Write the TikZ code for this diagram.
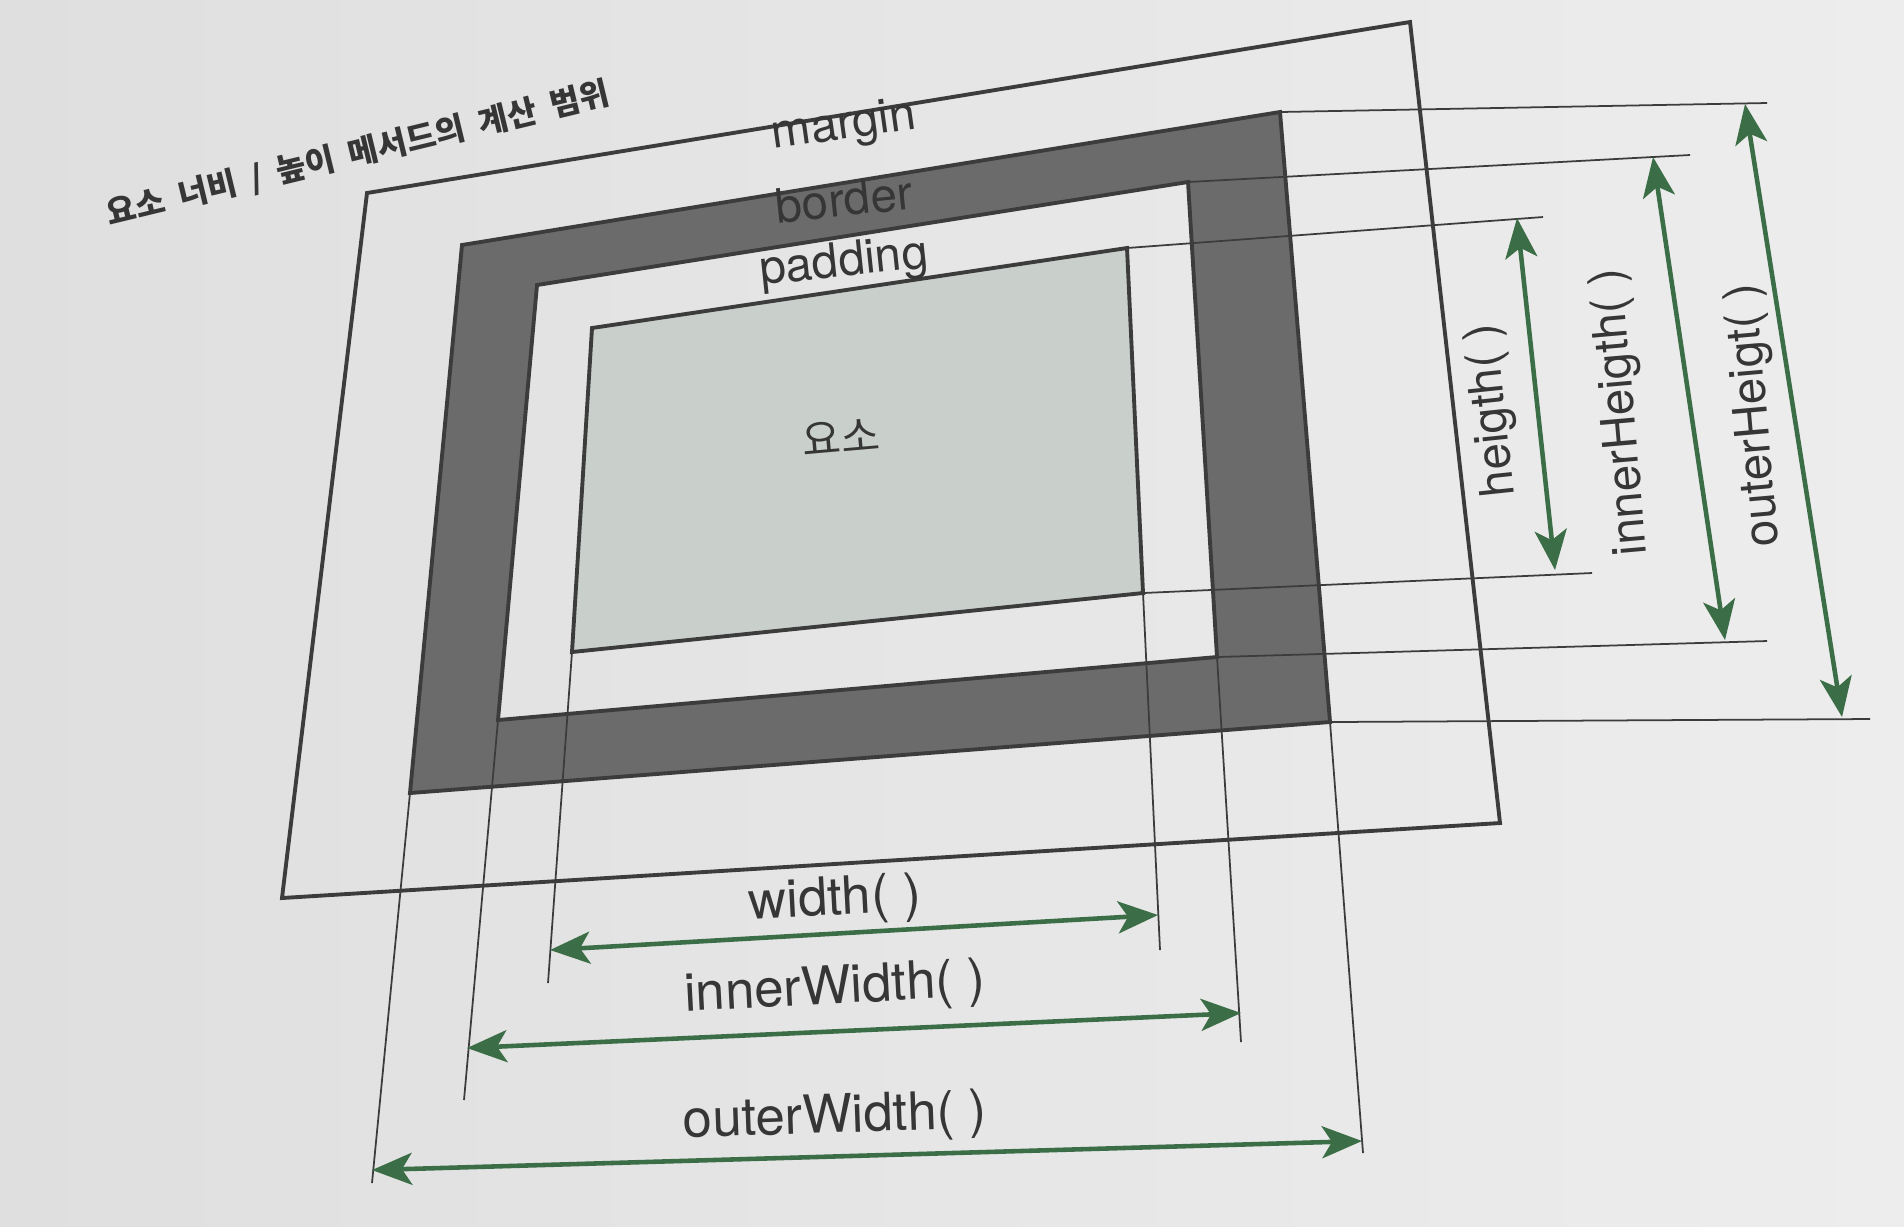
\documentclass[tikz,border=0pt]{standalone}
\usepackage{fontspec}
\setmainfont{TeX Gyre Heros}
\newfontfamily\kr{Noto Sans CJK KR}
\usetikzlibrary{arrows.meta}
\definecolor{paperL}{HTML}{DFDFDF}
\definecolor{paperR}{HTML}{EDEDED}
\definecolor{bordgray}{HTML}{6B6B6B}
\definecolor{elemgray}{HTML}{C9D0CC}
\definecolor{linegray}{HTML}{3C3C3C}
\definecolor{dimgreen}{HTML}{3B6E46}
\definecolor{txtgray}{HTML}{363636}

\begin{document}
\begin{tikzpicture}[x=0.01cm,y=-0.01cm,
 box/.style={draw=linegray,line width=1.1pt},
 ext/.style={draw=linegray,line width=.5pt},
 dim/.style={draw=dimgreen,line width=1.3pt,{Stealth[length=4mm,width=3.2mm,inset=1mm]}-{Stealth[length=4mm,width=3.2mm,inset=1mm]}},
 lbl/.style={text=txtgray,inner sep=0pt,font=\fontsize{13.5}{16}\selectfont},
 wlbl/.style={text=txtgray,inner sep=0pt,font=\fontsize{15}{18}\selectfont}]
\shade[left color=paperL,right color=paperR] (0,0) rectangle (1904,1226);
\useasboundingbox (0,0) rectangle (1904,1226);
% corners: margin, border, padding, element
\coordinate (mTL) at (367,193);\coordinate (mTR) at (1410,22);\coordinate (mBR) at (1500,823);\coordinate (mBL) at (282,898);
\coordinate (bTL) at (462,245);\coordinate (bTR) at (1280,112);\coordinate (bBR) at (1330,722);\coordinate (bBL) at (410,793);
\coordinate (pTL) at (537,285);\coordinate (pTR) at (1188,182);\coordinate (pBR) at (1217,657);\coordinate (pBL) at (498,720);
\coordinate (cTL) at (592,328);\coordinate (cTR) at (1127,248);\coordinate (cBR) at (1143,593);\coordinate (cBL) at (572,652);
\fill[bordgray,even odd rule] (bTL)--(bTR)--(bBR)--(bBL)--cycle (pTL)--(pTR)--(pBR)--(pBL)--cycle;
\fill[elemgray] (cTL)--(cTR)--(cBR)--(cBL)--cycle;
\draw[box] (mTL)--(mTR)--(mBR)--(mBL)--cycle;
\draw[box] (bTL)--(bTR)--(bBR)--(bBL)--cycle;
\draw[box] (pTL)--(pTR)--(pBR)--(pBL)--cycle;
\draw[box] (cTL)--(cTR)--(cBR)--(cBL)--cycle;
% extension line ends
\coordinate (cBLx) at (548,983);\coordinate (pBLx) at (464,1100);\coordinate (bBLx) at (372,1183);
\coordinate (cBRx) at (1160,950);\coordinate (pBRx) at (1241,1042);\coordinate (bBRx) at (1363,1153);
\coordinate (cTRy) at (1543,217);\coordinate (cBRy) at (1592,573);\coordinate (pTRy) at (1690,155);
\coordinate (pBRy) at (1767,641);\coordinate (bTRy) at (1767,103);\coordinate (bBRy) at (1870,719);
\foreach \a/\b in {cBL/cBLx,pBL/pBLx,bBL/bBLx,cBR/cBRx,pBR/pBRx,bBR/bBRx,cTR/cTRy,cBR/cBRy,pTR/pTRy,pBR/pBRy,bTR/bTRy,bBR/bBRy}
 \draw[ext] (\a)--(\b);
% arrow ends
\coordinate (w1) at (550,950);\coordinate (w2) at (1158,915);
\coordinate (iw1) at (467,1048);\coordinate (iw2) at (1241,1013);
\coordinate (ow1) at (372,1170);\coordinate (ow2) at (1362,1141);
\coordinate (h1) at (1517,218);\coordinate (h2) at (1555,570);
\coordinate (ih1) at (1653,157);\coordinate (ih2) at (1725,640);
\coordinate (oh1) at (1745,104);\coordinate (oh2) at (1842,717);
\foreach \a/\b in {w1/w2,iw1/iw2,ow1/ow2,h1/h2,ih1/ih2,oh1/oh2}
 \draw[dim] (\a)--(\b);
% labels
\node[rotate=13.6,text=txtgray,font=\kr\bfseries\fontsize{9.2}{11}\selectfont] (title) at (358,154) {\spaceskip=.45em\relax 요소 너비 / 높이 메서드의 계산 범위};
\node[lbl,rotate=8] (margin) at (844,127) {margin};
\node[lbl,rotate=6] (border) at (844,199) {border};
\node[lbl,rotate=6] (padding) at (844,264) {padding};
\node[lbl,rotate=5,font=\kr\fontsize{12}{14}\selectfont] (elem) at (841,437) {요소};
\node[wlbl,rotate=3] (wl) at (835,901) {width( )};
\node[wlbl,rotate=3] (iwl) at (835,990) {innerWidth( )};
\node[wlbl,rotate=2] (owl) at (835,1119) {outerWidth( )};
\node[lbl,rotate=96] (hl) at (1493,410) {heigth( )};
\node[lbl,rotate=95] (ihl) at (1622,412) {innerHeigth( )};
\node[lbl,rotate=95] (ohl) at (1755,415) {outerHeigt( )};
\end{tikzpicture}
\end{document}
